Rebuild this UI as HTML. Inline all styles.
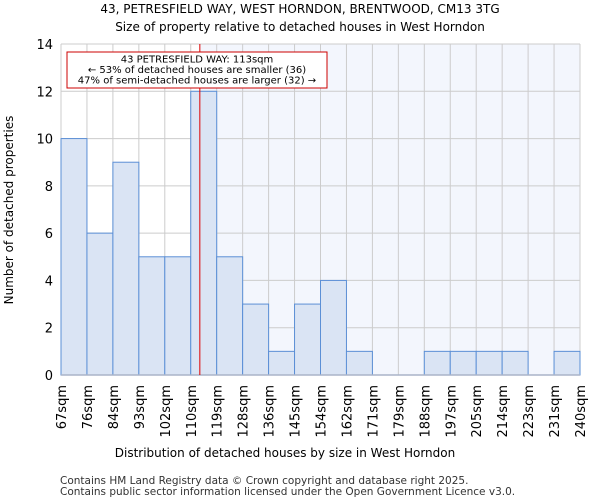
<!DOCTYPE html>
<html><head><meta charset="utf-8"><style>
body{margin:0;background:#fff;font-family:"DejaVu Sans","Liberation Sans",sans-serif}
</style></head><body>
<svg id="c" width="600" height="500" xmlns="http://www.w3.org/2000/svg" font-family="DejaVu Sans, Liberation Sans, sans-serif">
<text x="300" y="13" font-size="12" text-anchor="middle">43, PETRESFIELD WAY, WEST HORNDON, BRENTWOOD, CM13 3TG</text>
<text x="300" y="31" font-size="12" text-anchor="middle">Size of property relative to detached houses in West Horndon</text>
<g id="plot"></g>
<text x="285" y="457" font-size="12" text-anchor="middle">Distribution of detached houses by size in West Horndon</text>
<text transform="translate(13,210) rotate(-90)" font-size="12" text-anchor="middle">Number of detached properties</text>
<text x="60" y="484" font-size="10.5" fill="#333">Contains HM Land Registry data © Crown copyright and database right 2025.</text>
<text x="60" y="495" font-size="10.5" fill="#333">Contains public sector information licensed under the Open Government Licence v3.0.</text>
</svg>
<script>
const categories=["67sqm","76sqm","84sqm","93sqm","102sqm","110sqm","119sqm","128sqm","136sqm","145sqm","154sqm","162sqm","171sqm","179sqm","188sqm","197sqm","205sqm","214sqm","223sqm","231sqm","240sqm"];
const counts=[10,6,9,5,5,12,5,3,1,3,4,1,0,0,1,1,1,1,0,1];
const yTicks=[0,2,4,6,8,10,12,14];
const markerIndex=5.35;
const NS="http://www.w3.org/2000/svg";
const L=61,R=580,T=44,B=375,yMax=14;
const bw=(R-L)/counts.length;
const x=i=>L+i*bw;
const y=v=>B-(v/yMax)*(B-T);
const g=document.getElementById('plot');
function mk(t,a){const e=document.createElementNS(NS,t);for(const k in a)e.setAttribute(k,a[k]);g.appendChild(e);return e;}
const mx=x(markerIndex);
let e=mk('rect',{x:mx,y:T,width:R-mx,height:B-T,fill:'#f3f6fd'});


yTicks.forEach(t=>{
 let l=mk('line',{x1:L,x2:R,y1:y(t),y2:y(t),stroke:'#cccccc','stroke-width':1});
 
 
 let tx=mk('text',{x:L-8,y:y(t)+5,'font-size':13,'text-anchor':'end'});
 tx.textContent=t;
 
 
});
categories.forEach((c,i)=>{
 let l=mk('line',{x1:x(i),x2:x(i),y1:T,y2:B,stroke:'#cccccc','stroke-width':1});
 
 
 let tx=mk('text',{transform:`translate(${x(i)+5},${B+10}) rotate(-90)`,'font-size':13,'text-anchor':'end'});
 tx.textContent=c;
 
 
});
counts.forEach((v,i)=>{
 if(v<=0)return;
 let r=mk('rect',{x:x(i),y:y(v),width:bw,height:B-y(v),fill:'#dae4f4',stroke:'#5b8fd6','stroke-width':1});
 
 
});
let ax=mk('line',{x1:L,x2:R,y1:B,y2:B,stroke:'#aab4c8','stroke-width':1.5});


let ml=mk('line',{x1:mx,x2:mx,y1:T,y2:B,stroke:'#dd0000','stroke-width':1});


let box=mk('rect',{x:67,y:52,width:260,height:36,fill:'#fff',stroke:'#cc0000','stroke-width':1});


["43 PETRESFIELD WAY: 113sqm","← 53% of detached houses are smaller (36)","47% of semi-detached houses are larger (32) →"].forEach((s,k)=>{
 let t=mk('text',{x:197,y:62.5+k*10.5,'font-size':10,'text-anchor':'middle'});
 t.textContent=s;
 
 
});
</script>
</body></html>
